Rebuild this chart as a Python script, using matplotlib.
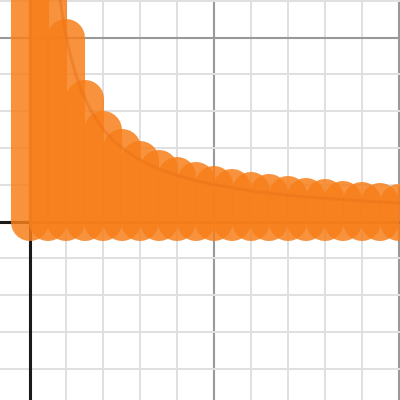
import matplotlib
matplotlib.use('Agg')
import matplotlib.pyplot as plt
from matplotlib.ticker import MultipleLocator

# sample positions of the bars and their heights
bar_x = [0.0, 0.5, 1.0, 1.5, 2.0, 2.5, 3.0, 3.5, 4.0, 4.5, 5.0,
         5.5, 6.0, 6.5, 7.0, 7.5, 8.0, 8.5, 9.0, 9.5, 10.0, 10.5]
bar_h = [20.0, 10.0, 5.0, 3.33, 2.5, 2.0, 1.67, 1.43, 1.25, 1.11, 1.0,
         0.91, 0.83, 0.77, 0.71, 0.67, 0.63, 0.59, 0.56, 0.53, 0.5, 0.48]

# points along the curve
curve_x = [0.7, 0.8, 0.9, 1.0, 1.1, 1.25, 1.4, 1.6, 1.8, 2.0, 2.3, 2.6, 3.0,
           3.5, 4.0, 4.5, 5.0, 6.0, 7.0, 8.0, 9.0, 10.0, 10.5]
curve_y = [7.14, 6.25, 5.56, 5.0, 4.55, 4.0, 3.57, 3.13, 2.78, 2.5, 2.17,
           1.92, 1.67, 1.43, 1.25, 1.11, 1.0, 0.83, 0.71, 0.63, 0.56, 0.5, 0.48]

ORANGE = '#f77f1a'

fig = plt.figure(figsize=(4, 4), dpi=100)
ax = fig.add_axes([0, 0, 1, 1])

ax.set_xlim(-0.8, 10.04)
ax.set_ylim(-4.85, 6.02)

# grid
ax.xaxis.set_major_locator(MultipleLocator(5))
ax.yaxis.set_major_locator(MultipleLocator(5))
ax.xaxis.set_minor_locator(MultipleLocator(1))
ax.yaxis.set_minor_locator(MultipleLocator(1))
ax.grid(which='minor', color='#e0e0e0', linewidth=1.4, zorder=0)
ax.grid(which='major', color='#999999', linewidth=1.5, zorder=0)
ax.set_axisbelow(True)
ax.tick_params(which='both', length=0, labelbottom=False, labelleft=False)
for s in ax.spines.values():
    s.set_visible(False)

# axes
ax.axhline(0, color='#1a1a1a', linewidth=2.2, zorder=1)
ax.axvline(0, color='#1a1a1a', linewidth=2.2, zorder=1)

# thick round-capped bars
ax.vlines(bar_x, 0, bar_h, colors=ORANGE, linewidth=27.4,
          alpha=0.85, capstyle='round', zorder=2)

# curve
ax.plot(curve_x, curve_y, color='#e8701a', linewidth=2.2, alpha=0.45,
        solid_capstyle='round', zorder=3)

fig.savefig('out.png', dpi=100)
